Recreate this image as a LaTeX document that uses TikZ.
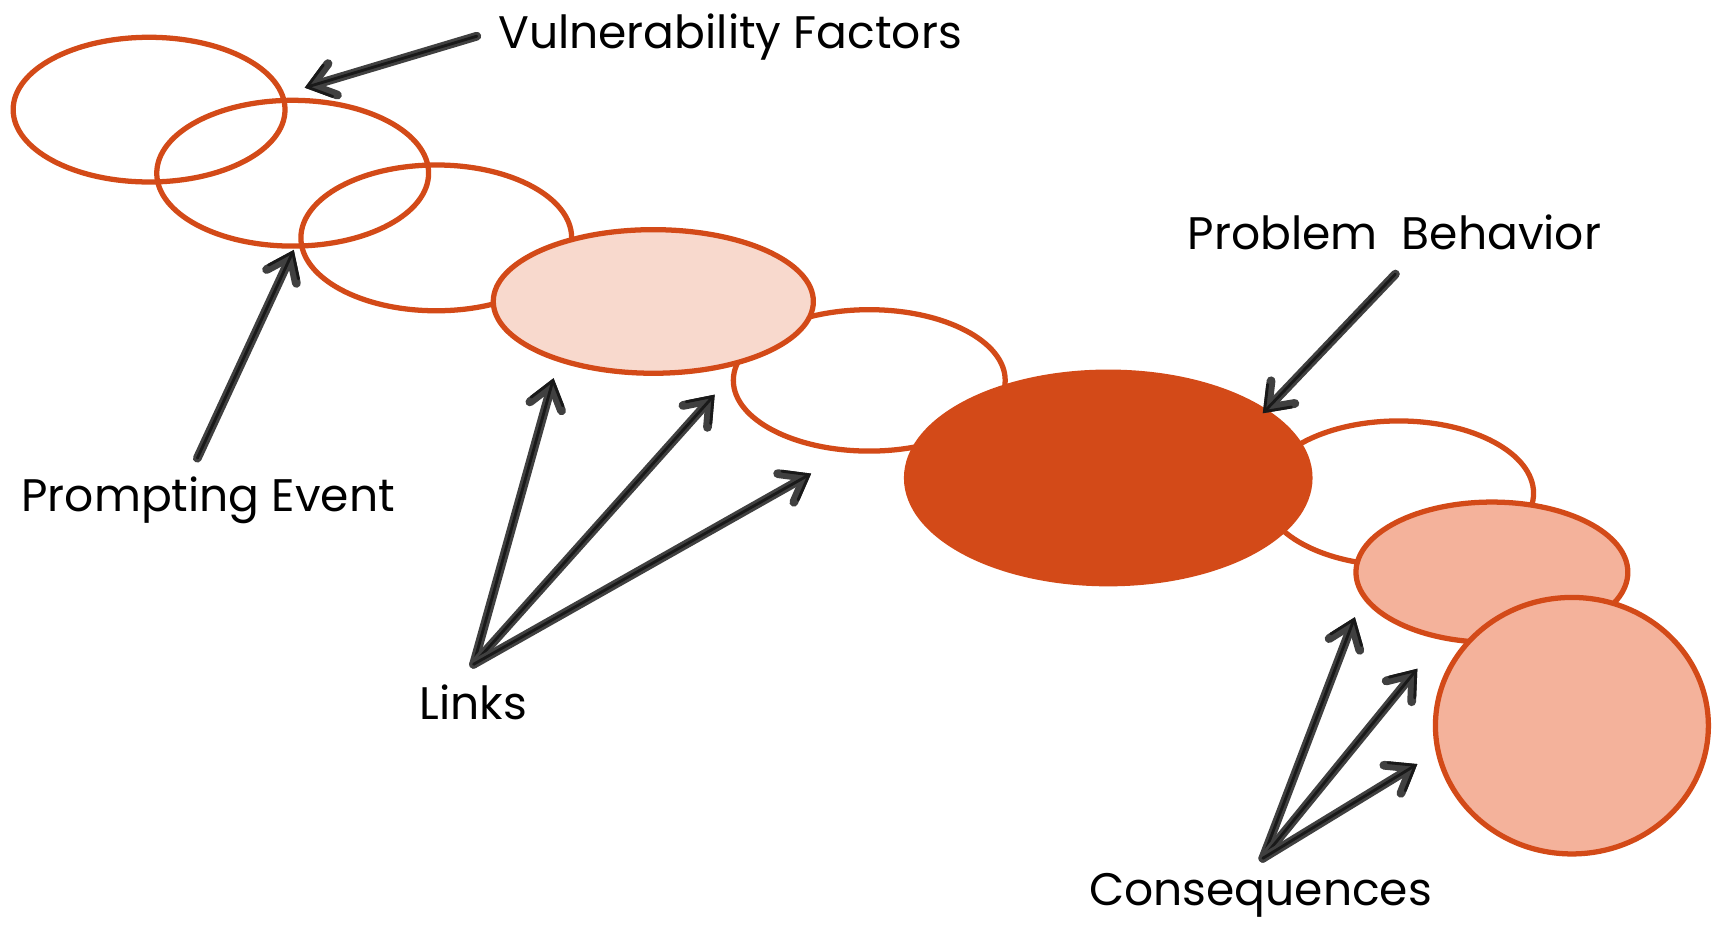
\documentclass[tikz,border=0pt]{standalone}
\usepackage{fontspec}
\setmainfont{Poppins}
\usetikzlibrary{shapes.geometric,arrows.meta}
\definecolor{rust}{HTML}{D34A18}
\definecolor{blush}{HTML}{F8D9CD}
\definecolor{salmon}{HTML}{F4B29B}
\definecolor{pointergray}{HTML}{404040}
\begin{document}
\begin{tikzpicture}[x=0.5pt,y=-0.5pt,line cap=round,line join=round,
	link/.style={ellipse,draw=rust,line width=2.4pt,inner sep=0pt},
	label/.style={font=\fontsize{20.8}{25}\selectfont,anchor=base,inner sep=0pt},
	pointer/.style={draw=pointergray,line width=4pt,-{Straight Barb[length=10pt,width=15pt,line cap=round]},
		postaction={draw=black!90,line width=1.3pt}}]
	\useasboundingbox[fill=white] (0,0) rectangle (1570,843);
	% chain of links
	\node[link,minimum width=124pt,minimum height=66pt] (vuln1) at (136,100) {};
	\node[link,minimum width=124pt,minimum height=66.5pt] (vuln2) at (267,158) {};
	\node[link,minimum width=123.5pt,minimum height=66.5pt] (prompt) at (398,217) {};
	\node[link,fill=white,minimum width=124pt,minimum height=64.5pt] (linkC) at (793,347) {};
	\node[link,fill=blush,minimum width=146pt,minimum height=65.5pt] (linkA) at (596,275) {};
	\node[link,fill=white,minimum width=123pt,minimum height=66pt] (conseqA) at (1276,450) {};
	\node[link,fill=rust,minimum width=184pt,minimum height=96.5pt] (problem) at (1011,436) {};
	\node[link,fill=salmon,minimum width=124pt,minimum height=64pt] (conseqB) at (1361,522) {};
	\node[link,fill=salmon,minimum width=124.5pt,minimum height=117pt] (conseqC) at (1434,662) {};
	% labels
	\node[label] (vulnText) at (666,44) {Vulnerability Factors};
	\node[label] (problemText) at (1272,228) {Problem\ \ Behavior};
	\node[label] (promptText) at (190,467) {Prompting Event};
	\node[label] (linksText) at (432,656) {Links};
	\node[label] (conseqText) at (1150,826) {Consequences};
	% arrow ends
	\coordinate (vulnTail) at (435,33);
	\coordinate (vulnHead) at (278,80);
	\coordinate (promptTail) at (180,418);
	\coordinate (promptHead) at (268,228);
	\coordinate (linksTail) at (432,606);
	\coordinate (linksHeadA) at (505,345);
	\coordinate (linksHeadB) at (652,360);
	\coordinate (linksHeadC) at (740,432);
	\coordinate (problemTail) at (1273,250);
	\coordinate (problemHead) at (1152,377);
	\coordinate (conseqTail) at (1152,783);
	\coordinate (conseqHeadA) at (1236,563);
	\coordinate (conseqHeadB) at (1293,610);
	\coordinate (conseqHeadC) at (1293,697);
	% pointers
	\draw[pointer] (vulnTail) -- (vulnHead);
	\draw[pointer] (promptTail) -- (promptHead);
	\foreach \h in {A,B,C}
		\draw[pointer] (linksTail) -- (linksHead\h);
	\draw[pointer] (problemTail) -- (problemHead);
	\foreach \h in {A,B,C}
		\draw[pointer] (conseqTail) -- (conseqHead\h);
\end{tikzpicture}
\end{document}
